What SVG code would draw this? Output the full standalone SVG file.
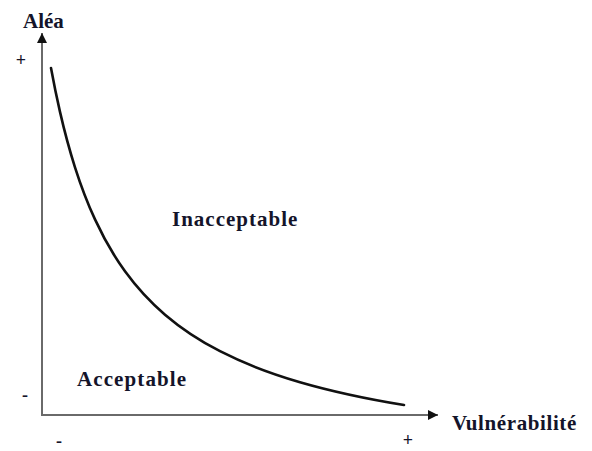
<svg xmlns="http://www.w3.org/2000/svg" width="592" height="451" viewBox="0 0 592 451">
  <style>
    .lbl { font-family: "Liberation Serif", "Times New Roman", serif; font-weight: bold; font-size: 21px; fill: #14142a; }
    .tick { font-family: "Liberation Serif", "Times New Roman", serif; font-weight: bold; font-size: 18px; fill: #14142a; }
    .axis { stroke: #6a6a6a; stroke-width: 2; fill: none; }
    .curve { stroke: #111; stroke-width: 2.6; fill: none; stroke-linecap: round; }
  </style>
  <defs>
    <marker id="arrow" viewBox="0 0 10 10" refX="10" refY="5" markerWidth="10" markerHeight="10" markerUnits="userSpaceOnUse" orient="auto">
      <path d="M0,0 L10,5 L0,10 Z" fill="#111"/>
    </marker>
  </defs>
  <rect width="592" height="451" fill="#fff"/>

  <!-- axes and the hyperbolic acceptability limit -->
  <g id="connectors">
    <line class="axis" x1="42" y1="415" x2="42" y2="33" marker-end="url(#arrow)"/>
    <line class="axis" x1="41" y1="415" x2="438" y2="415" marker-end="url(#arrow)"/>
    <path class="curve" d="M51,68 C54,84.4 57,98.8 60,111.9 C65,133.7 70,151.6 75,167.3 C81.67,188.2 88.33,205 95,219.4 C105,241.1 115,257.5 125,271.3 C138.33,289.7 151.67,303.3 165,314.7 C183.33,330.4 201.67,341.8 220,351.2 C246.67,364.9 273.33,374.4 300,382.2 C334.67,392.3 369.33,399.3 404,405"/>
  </g>

  <g id="axis-y-label"><text class="lbl" x="23" y="28">Aléa</text></g>
  <g id="axis-x-label"><text class="lbl" x="452" y="430" letter-spacing="0.6">Vulnérabilité</text></g>
  <g id="zone-inacceptable"><text class="lbl" x="172" y="226" letter-spacing="1">Inacceptable</text></g>
  <g id="zone-acceptable"><text class="lbl" x="77" y="386" letter-spacing="1.1">Acceptable</text></g>

  <g id="ticks">
    <text class="tick" x="21" y="66" text-anchor="middle">+</text>
    <text class="tick" x="25" y="401" text-anchor="middle">-</text>
    <text class="tick" x="59" y="447" text-anchor="middle">-</text>
    <text class="tick" x="408" y="446" text-anchor="middle">+</text>
  </g>
</svg>
